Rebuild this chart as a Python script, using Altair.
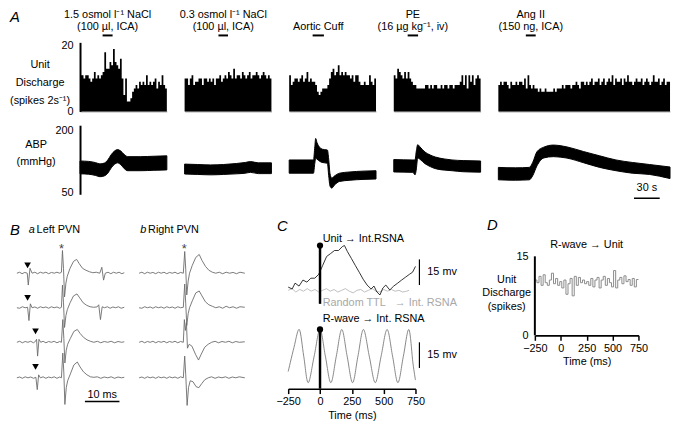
import altair as alt
import pandas as pd

FONT = "Liberation Sans"
FS = 11

# ===================== Panel A : unit discharge (spikes / 2 s bin) =====================
HIST_BIN_S = 2
HIST_NACL15 = [11, 11, 10, 11, 11, 10, 9, 10, 12, 10,
               11, 10, 11, 12, 18, 13, 13, 15, 14, 19,
               15, 14, 13, 16, 10, 5, 10, 3, 3, 4,
               6, 7, 8, 7, 9, 8, 9, 8, 11, 8,
               9, 8, 9, 10, 7, 9, 8, 11, 8, 7]
HIST_NACL03 = [10, 10, 8, 10, 11, 8, 9, 9, 10, 10,
               8, 10, 10, 9, 10, 9, 10, 8, 10, 10,
               11, 9, 10, 11, 10, 12, 11, 10, 13, 10,
               11, 11, 10, 12, 11, 10, 11, 12, 10, 11,
               11, 12, 11, 10, 11, 12, 11, 10, 11, 10]
HIST_CUFF = [11, 8, 9, 10, 10, 9, 10, 11, 9, 10,
             12, 9, 10, 9, 9, 8, 6, 5, 6, 7,
             7, 7, 8, 10, 12, 13, 11, 12, 14, 11,
             12, 11, 12, 11, 11, 10, 11, 9, 11, 11,
             9, 8, 8, 9, 8, 8, 11, 9, 8, 10]
HIST_PE = [11, 10, 13, 12, 11, 10, 12, 10, 12, 10,
           9, 8, 8, 7, 7, 7, 7, 7, 8, 8,
           7, 8, 7, 8, 8, 7, 7, 8, 7, 8,
           8, 7, 8, 8, 7, 8, 8, 8, 9, 11,
           8, 11, 7, 11, 9, 11, 8, 10, 11, 10]
HIST_ANG = [8, 9, 8, 9, 9, 8, 7, 9, 8, 8,
            9, 8, 9, 9, 8, 10, 7, 11, 8, 7,
            8, 7, 7, 6, 7, 6, 6, 7, 6, 6,
            6, 6, 7, 6, 7, 7, 7, 8, 7, 8,
            8, 8, 7, 8, 8, 9, 8, 7, 9, 9,
            8, 9, 8, 9, 10, 8, 9, 9, 10, 8,
            9, 10, 8, 9, 10, 9, 11, 8, 10, 9,
            9, 10, 8, 10, 9, 11, 9, 9, 8, 9,
            10, 9, 9, 10, 8, 9, 10, 9, 8, 9,
            11, 9, 9, 10, 8, 9, 10, 8, 9, 9]
HISTS = [HIST_NACL15, HIST_NACL03, HIST_CUFF, HIST_PE, HIST_ANG]
T_MAX_S = [100, 100, 100, 100, 200]
PANEL_W = [88, 88, 88, 88, 174]

STIM_START_S = [26, 39, 27, 16, 32]
STIM_END_S = [37.5, 50, 40, 28, 43.5]
LABEL_TOP = ["1.5 osmol l\u207b\u00b9 NaCl", "0.3 osmol l\u207b\u00b9 NaCl", "", "PE", "Ang II"]
LABEL_BOTTOM = ["(100 \u00b5l, ICA)", "(100 \u00b5l, ICA)", "Aortic Cuff",
                "(16 \u00b5g kg\u207b\u00b9, iv)", "(150 ng, ICA)"]

# ABP (mmHg): time (s), mean, pulse pressure
ABP_T = [
    [0, 10, 18, 23, 28, 32, 36, 40, 43, 47, 51, 55, 70, 85, 100],
    [0, 15, 30, 45, 60, 70, 76, 85, 100],
    [0, 28, 29.5, 30.5, 32, 35, 38, 44, 45.5, 47, 49, 52, 58, 70, 85, 100],
    [0, 22, 24.5, 25.8, 27.6, 30, 36, 42, 48, 58, 67, 80, 100],
    [0, 20, 36, 40, 45, 53, 64, 80, 99, 118, 137, 156, 176, 200],
]
ABP_MEAN = [
    [110, 109, 106, 103, 105, 112, 125, 134, 137, 133, 124, 119, 119, 120, 121],
    [106, 105, 104, 105, 107, 109, 111, 108, 108],
    [112, 112, 140, 156, 150, 142, 138, 136, 110, 80, 72, 78, 86, 89, 91, 92],
    [114, 113, 110, 125, 149, 145, 133, 126, 121, 117, 115, 113, 112],
    [95, 94, 95, 106, 131, 146, 150, 146, 135, 124, 115, 109, 105, 97],
]
ABP_PP = [
    [31, 31, 31, 31, 31, 32, 32, 32, 32, 33, 34, 34, 34, 34, 34],
    [24, 24, 24, 24, 25, 26, 26, 26, 26],
    [32, 32, 40, 48, 40, 34, 32, 32, 40, 30, 24, 22, 20, 20, 20, 20],
    [30, 30, 36, 44, 32, 30, 28, 28, 28, 27, 26, 27, 27],
    [30, 30, 30, 32, 34, 26, 28, 27, 27, 28, 26, 26, 24, 28],
]
TIME_BAR_S = [158, 188]   # 30 s calibration bar

# ===================== Panel B : extracellular spike traces =====================
LEFT_TRACES = [
    [(0, 0), (0.8, 1), (1.5, -0.5), (2.3, 0.8), (3.0, 0), (3.3, -12), (3.8, 5), (4.4, 0), (5.2, 1), (6.0, -0.5),
     (6.8, 1), (7.6, 0), (8.4, 1), (9.2, -0.5), (10, 0.8), (10.8, 0), (11.6, 1), (12.4, 0), (12.9, 1), (13.2, 23),
     (13.5, 5), (13.8, -24), (14.2, -10), (14.6, -3), (15.4, 5), (16.4, 12), (17.3, 14), (18.0, 10), (19.0, 5),
     (20.0, 3), (21.0, 1.5), (22.0, 0.5), (23.0, 1), (24.0, 0), (24.6, 6), (25.1, -7), (25.6, 0), (26.4, 1),
     (27.2, -0.5), (28.0, 1), (28.8, 0), (29.6, 1), (30.4, -0.5), (31.1, 0.5)],
    [(0, 0), (0.8, -0.5), (1.6, 1), (2.4, 0), (3.1, 0.5), (3.5, -13), (3.9, 4), (4.4, 0), (5.2, 0.8), (6, -0.5),
     (6.8, 1), (7.6, 0), (8.4, 0.8), (9.2, -0.5), (10, 1), (10.8, 0), (11.6, 0.8), (12.4, -0.5), (12.9, 0.5),
     (13.2, 23), (13.5, 5), (13.8, -20), (14.2, -8), (14.6, -2), (15.4, 5), (16.4, 12), (17.4, 14), (18.2, 10),
     (19.2, 5), (20.2, 2.5), (21.2, 1), (22.2, 0.5), (23.2, 0.8), (23.7, 3), (24.2, -12), (24.7, 1), (25.4, 0),
     (26.2, 1), (27, -0.5), (27.8, 0.8), (28.6, 0), (29.4, 1), (30.2, -0.5), (31.1, 0.5)],
    [(0, 0), (0.8, 1), (1.6, -0.5), (2.4, 0.8), (3.2, 0), (4, 1), (4.8, -0.5), (5.4, 1), (5.7, 3), (6.0, -14),
     (6.4, 3), (6.9, 0), (7.6, 1), (8.4, -0.5), (9.2, 0.8), (10, 0), (10.8, 1), (11.6, -0.5), (12.4, 0.8),
     (12.9, 0), (13.3, 23), (13.6, 4), (13.9, -21), (14.3, -8), (14.7, -2), (15.5, 4), (16.5, 11), (17.5, 13),
     (18.3, 9), (19.3, 5), (20.3, 2.5), (21.3, 1), (22.3, 0), (23.3, 1), (24.3, -0.5), (25.3, 0.8), (26.3, 0),
     (27.3, 1), (28.3, -0.5), (29.3, 0.8), (30.3, 0), (31.1, 0.5)],
    [(0, 0), (0.8, 0.8), (1.6, -0.5), (2.4, 1), (3.2, 0), (4, 0.8), (4.8, -0.5), (5.5, 0.5), (5.9, -12), (6.3, 3),
     (6.8, 0), (7.6, 1), (8.4, -0.5), (9.2, 0.8), (10, 0), (10.8, 1), (11.6, -0.5), (12.4, 0.8), (12.9, 0),
     (13.3, 25), (13.6, 5), (13.9, -27), (14.3, -10), (14.7, -3), (15.5, 4), (16.5, 13), (17.5, 16), (18.3, 11),
     (19.3, 6), (20.3, 3), (21.3, 1), (22.3, 0.5), (23.3, 1), (24.3, -0.5), (25.3, 0.8), (26.3, 0), (27.3, 1),
     (28.3, -0.5), (29.3, 0.8), (30.3, 0), (31.1, 0.5)],
]
RIGHT_TRACES = [
    [(0, 0), (0.8, 1), (1.6, -0.5), (2.4, 1), (3.2, 0), (4, 0.8), (4.8, -0.5), (5.6, 1), (6.4, 0), (7.2, 1),
     (8, -0.5), (8.8, 0.8), (9.6, 0), (10.4, 1), (11.2, -0.5), (12, 0.8), (12.8, 0), (13.2, 22), (13.5, 4),
     (13.8, -22), (14.2, -8), (14.6, 0), (15.4, 8), (16.4, 16), (17.4, 19), (18.2, 13), (19.2, 7), (20.2, 3),
     (21.2, 1), (22.2, 0), (23.2, 1), (24.2, -0.5), (25.2, 1), (26.2, 0), (27.2, 0.8), (28.2, -0.5), (29.2, 1),
     (30.6, 0)],
    [(0, 0), (0.8, -0.5), (1.6, 1), (2.4, 0), (3.2, 0.8), (4, -0.5), (4.8, 1), (5.6, 0), (6.4, 0.8), (7.2, -0.5),
     (8, 1), (8.8, 0), (9.6, 0.8), (10.4, -0.5), (11.2, 1), (12, 0), (12.8, 0.5), (13.2, 24), (13.5, 4),
     (13.8, -18), (14.2, -6), (14.6, 0), (15.4, 7), (16.4, 15), (17.4, 17), (18.2, 12), (19.2, 6), (20.2, 3),
     (21.2, 1.5), (22.2, 0), (23.2, 1), (24.2, -0.5), (25.2, 1.5), (26.2, 0), (27.2, 1), (28.2, -0.5), (29.2, 1),
     (30.6, 0.5)],
    [(0, 0), (0.8, 1), (1.6, -0.5), (2.4, 0.8), (3.2, 0), (4, 1), (4.8, -0.5), (5.6, 0.8), (6.4, 0), (7.2, 1),
     (8, -0.5), (8.8, 0.8), (9.6, 0), (10.4, 1), (11.2, -0.5), (12, 0.8), (12.8, 0), (13.1, 23), (13.4, 12),
     (13.7, 20), (14.0, -6), (14.5, -2), (15.3, -4), (16.3, -12), (17.2, -18), (18.0, -12), (19.0, -5),
     (20.0, -2), (21.0, 0), (22, 1), (23, -0.5), (24, 0.8), (25, 0), (26, 1), (27, -0.5), (28, 0.8), (29, 0),
     (30.6, 0.5)],
    [(0, 0), (0.8, 0.8), (1.6, -0.5), (2.4, 1), (3.2, 0), (4, 0.8), (4.8, -0.5), (5.6, 1), (6.4, 0), (7.2, 0.8),
     (8, -0.5), (8.8, 1), (9.6, 0), (10.4, 0.8), (11.2, -0.5), (12, 1), (12.8, 0), (13.2, 22), (13.5, 3),
     (13.9, -28), (14.3, -10), (14.8, -3), (15.6, -4), (16.5, -9), (17.3, -10), (18.1, -6), (19, -2), (20, 0),
     (21, 1), (22, -0.5), (23, 0.8), (24, 0), (25, 1), (26, -0.5), (27, 0.8), (28, 0), (29, 1), (30.6, 0)],
]
B_TRACE_OFFSET = [0, -35, -70, -106]
B_RIGHT_SHIFT_MS = 35.4
B_ARROWS = [(0, 3.1, 8), (1, 3.1, 10), (2, 5.4, 11), (3, 5.4, 11)]   # (trace, ms, height)
B_STARS = [(12.9, 27), (35.4 + 13.1, 27)]
B_SCALE_MS = [19.7, 29.7]

# ===================== Panel C : triggered averages of integrated RSNA =====================
C_UNIT_T = [-250, -219, -196, -165, -134, -103, -72, -41, -10, 21, 52, 83, 114, 145, 176, 192, 215, 246, 277,
            308, 339, 370, 401, 424, 447, 471, 494, 517, 548, 579, 610, 641, 672, 703, 727, 750]
C_UNIT_V = [59.4, 58.3, 61.7, 60, 63.5, 62.3, 64.6, 64.6, 66.9, 72.1, 77.3, 79, 80.8, 80.8, 83.1, 83.7, 80.2,
            76.2, 72.1, 68.1, 64, 60.6, 58.3, 60, 56.5, 54.8, 58.9, 60.6, 57.7, 60, 61.7, 63.5, 65.2, 66.9, 68.1, 71.5]
C_TTL_T = [-250, -220, -190, -160, -130, -100, -70, -40, -10, 20, 50, 80, 110, 140, 170, 200, 230, 260, 290,
           320, 350, 380, 410, 440, 470, 500, 530, 560, 590, 620, 650, 680, 700]
C_TTL_V = [57.5, 58.5, 56.5, 58, 57, 58.5, 57, 58, 56.5, 57.5, 58.5, 57, 58, 56.5, 57.5, 58.5, 57, 56, 57.5,
           58, 56.5, 57.5, 58.5, 57, 56.5, 58, 57, 58, 57, 57.5, 56.5, 57, 57.5]
C_RWAVE_T = [-250, -205, -163, -128, -93, -46, 0, 42, 85, 128, 171, 213, 256, 298, 341, 387, 434, 480, 527,
             570, 612, 655, 698, 730, 750]
C_RWAVE_V = [10, 24, 34.6, 19, 3.5, 19, 34.6, 19, 3.5, 19, 34.6, 19, 3.5, 19, 34.6, 19, 3.5, 19, 34.6,
             19, 3.5, 19, 34.6, 15, 5]
C_TRIGGER = [(49.6, 83.7), (0, 34.6)]     # vertical trigger marks at t = 0 (mV range)
C_SCALEBARS = [(60.6, 75.6), (12.1, 27.1)]  # 15 mV calibration bars
C_SCALE_X_MS = 781

# ===================== Panel D : R-wave triggered unit histogram =====================
D_BIN_MS = 20
D_COUNTS = [10.5, 10, 11.2, 9.5, 11.5, 10, 9.5, 10.5, 11.8, 9.8,
            10.8, 9.5, 10.2, 9, 10.5, 7.8, 9.8, 10.8, 7.5, 11.2,
            9.5, 11, 10, 10.5, 9.8, 10.2, 9.5, 10.8, 9.2, 10.5,
            11, 9, 10.5, 11.2, 9.5, 10.8, 10, 9.2, 12.3, 9,
            10.5, 11, 9.8, 11.3, 10.2, 10.6, 9.5, 10.8, 9.2, 10.6]
TIME_TICKS_MS = [-250, 0, 250, 500, 750]


def letter(ch, x, y):
    return alt.Chart(pd.DataFrame({"s": [ch]})).mark_text(
        fontSize=15, fontStyle="italic", align="center", baseline="middle"
    ).encode(x=alt.value(x), y=alt.value(y), text="s:N")


def frame(top, bottom, left=-8):
    # white (invisible) guide that fixes the extent of a row for the layout
    return alt.Chart(pd.DataFrame({"v": [0]})).mark_rule(color="white", strokeWidth=0.5).encode(
        x=alt.value(left), y=alt.value(top), y2=alt.value(bottom))


def spacer(w, h):
    return alt.Chart(pd.DataFrame({"v": [0]})).mark_point(opacity=0).properties(width=w, height=h)


def hist_panel(i):
    counts = HISTS[i]
    # step outline of the histogram: each bin start, plus the closing edge of the last bin
    df = pd.DataFrame({"t": [k * HIST_BIN_S for k in range(len(counts))] + [len(counts) * HIST_BIN_S],
                       "n": counts + [counts[-1]]})
    xs = alt.Scale(domain=[0, T_MAX_S[i]], nice=False, zero=False)
    ys = alt.Scale(domain=[0, 21], nice=False)
    xax = alt.Axis(labels=False, ticks=False, title=None, domainColor="#9a9a9a", domainWidth=1, grid=False)
    if i == 0:
        yax = alt.Axis(values=[0, 20], ticks=False, domainWidth=2, labelPadding=7, grid=False,
                       title=["Unit", "Discharge", "(spikes 2s\u207b\u00b9)"], titleAngle=0, titleAlign="center",
                       titleBaseline="middle", titleX=-41, titleY=22, titleLineHeight=18.5)
    else:
        yax = None
    bars = alt.Chart(df).mark_area(color="black", interpolate="step-after").encode(
        x=alt.X("t:Q", scale=xs, axis=xax),
        y=alt.Y("n:Q", scale=ys, axis=yax), y2=alt.datum(0))
    sdf = pd.DataFrame({"s": [STIM_START_S[i]], "e": [STIM_END_S[i]]})
    sdf["m"] = (sdf["s"] + sdf["e"]) / 2
    stim = alt.Chart(sdf).mark_rule(color="black", strokeWidth=2).encode(
        x=alt.X("s:Q", scale=xs, axis=xax), x2="e:Q", y=alt.value(-7))
    lab_rows = []
    if LABEL_TOP[i]:
        lab_rows.append({"m": sdf["m"][0], "lab": LABEL_TOP[i], "yy": -28})
    lab_rows.append({"m": sdf["m"][0], "lab": LABEL_BOTTOM[i], "yy": -16})
    labs = alt.Chart(pd.DataFrame(lab_rows)).mark_text(fontSize=FS, baseline="middle").encode(
        x=alt.X("m:Q", scale=xs, axis=xax), y=alt.Y("yy:Q", scale=None), text="lab:N")
    layers = [bars, stim, labs]
    if i == 0:
        layers.append(letter("A", -66, -26))
    return alt.layer(*layers).properties(width=PANEL_W[i], height=70)


def abp_panel(i):
    df = pd.DataFrame({"t": ABP_T[i], "m": ABP_MEAN[i], "pp": ABP_PP[i]})
    df["lo"] = df["m"] - df["pp"] / 2
    df["hi"] = df["m"] + df["pp"] / 2
    xs = alt.Scale(domain=[0, T_MAX_S[i]], nice=False, zero=False)
    ys = alt.Scale(domain=[45, 212], nice=False, zero=False)
    if i == 0:
        yax = alt.Axis(values=[50, 200], ticks=False, domainWidth=2, labelPadding=7, grid=False,
                       title=["ABP", "(mmHg)"], titleAngle=0, titleAlign="center", titleBaseline="middle",
                       titleX=-45, titleY=20, titleLineHeight=17)
    else:
        yax = None
    band = alt.Chart(df).mark_area(color="black", interpolate="monotone", stroke="black", strokeWidth=1).encode(
        x=alt.X("t:Q", scale=xs, axis=None),
        y=alt.Y("lo:Q", scale=ys, axis=yax), y2="hi:Q")
    layers = [band]
    if i == 4:
        bdf = pd.DataFrame({"s": [TIME_BAR_S[0]], "e": [TIME_BAR_S[1]], "lab": ["30 s"]})
        bdf["m"] = (bdf["s"] + bdf["e"]) / 2
        layers.append(alt.Chart(bdf).mark_rule(color="black", strokeWidth=1.5).encode(
            x=alt.X("s:Q", scale=xs, axis=None), x2="e:Q", y=alt.value(74)))
        layers.append(alt.Chart(bdf).mark_text(fontSize=FS).encode(
            x=alt.X("m:Q", scale=xs, axis=None), y=alt.value(64), text="lab:N"))
    return alt.layer(*layers).properties(width=PANEL_W[i], height=70)


def panel_b():
    rows = []
    for side, traces in (("a", LEFT_TRACES), ("b", RIGHT_TRACES)):
        shift = B_RIGHT_SHIFT_MS if side == "b" else 0
        for k, tr in enumerate(traces):
            for j, (t, v) in enumerate(tr):
                rows.append({"key": side + str(k), "o": j, "t": t + shift, "y": v + B_TRACE_OFFSET[k]})
    df = pd.DataFrame(rows)
    xs = alt.Scale(domain=[0, 66], nice=False, zero=False)
    ys = alt.Scale(domain=[-136, 31], nice=False, zero=False)
    lines = alt.Chart(df).mark_line(color="#6a6a6a", strokeWidth=0.9).encode(
        x=alt.X("t:Q", scale=xs, axis=None), y=alt.Y("y:Q", scale=ys, axis=None),
        detail="key:N", order="o:Q")
    adf = pd.DataFrame({"t": [a[1] for a in B_ARROWS],
                        "y": [a[2] + B_TRACE_OFFSET[a[0]] for a in B_ARROWS]})
    arrows = alt.Chart(adf).mark_point(shape="triangle-down", filled=True, color="black", size=45, opacity=1).encode(
        x=alt.X("t:Q", scale=xs, axis=None), y=alt.Y("y:Q", scale=ys, axis=None))
    sdf = pd.DataFrame({"t": [s[0] for s in B_STARS], "y": [s[1] for s in B_STARS], "s": ["*", "*"]})
    stars = alt.Chart(sdf).mark_text(fontSize=13, baseline="middle", dy=3, color="#444").encode(
        x=alt.X("t:Q", scale=xs, axis=None), y=alt.Y("y:Q", scale=ys, axis=None), text="s:N")
    bar_df = pd.DataFrame({"s": [B_SCALE_MS[0]], "e": [B_SCALE_MS[1]], "y": [-130], "ty": [-123], "lab": ["10 ms"]})
    bar_df["m"] = (bar_df["s"] + bar_df["e"]) / 2
    sbar = alt.Chart(bar_df).mark_rule(color="black", strokeWidth=1.5).encode(
        x=alt.X("s:Q", scale=xs, axis=None), x2="e:Q", y=alt.Y("y:Q", scale=ys, axis=None))
    stxt = alt.Chart(bar_df).mark_text(fontSize=FS).encode(
        x=alt.X("m:Q", scale=xs, axis=None), y=alt.Y("ty:Q", scale=ys, axis=None), text="lab:N")
    heads = alt.Chart(pd.DataFrame({"s": ["a", "b"], "x": [15, 128]})).mark_text(
        fontSize=FS, fontStyle="italic").encode(x=alt.X("x:Q", scale=None, axis=None), y=alt.value(-13), text="s:N")
    heads2 = alt.Chart(pd.DataFrame({"s": ["Left PVN", "Right PVN"], "x": [20, 133]})).mark_text(
        fontSize=FS, align="left").encode(x=alt.X("x:Q", scale=None, axis=None), y=alt.value(-13), text="s:N")
    return alt.layer(frame(-29, 178), lines, arrows, stars, sbar, stxt, heads, heads2,
                     letter("B", -2, -13)).properties(width=231, height=167)


def time_axis(dw=1.5):
    return alt.Axis(values=TIME_TICKS_MS, tickSize=5, tickWidth=1.5, domainWidth=dw, labelPadding=2,
                    titlePadding=3, labelFlush=False, labelOverlap=False, grid=False, title="Time (ms)")


def panel_c():
    xs = alt.Scale(domain=[-250, 750], nice=False, zero=False)
    ys = alt.Scale(domain=[0, 85.4], nice=False, zero=False)
    xax = time_axis()
    unit = alt.Chart(pd.DataFrame({"t": C_UNIT_T, "v": C_UNIT_V})).mark_line(color="black", strokeWidth=0.8).encode(
        x=alt.X("t:Q", scale=xs, axis=xax), y=alt.Y("v:Q", scale=ys, axis=None))
    ttl = alt.Chart(pd.DataFrame({"t": C_TTL_T, "v": C_TTL_V})).mark_line(color="#b8b8b8", strokeWidth=0.9).encode(
        x=alt.X("t:Q", scale=xs, axis=xax), y=alt.Y("v:Q", scale=ys, axis=None))
    rw = alt.Chart(pd.DataFrame({"t": C_RWAVE_T, "v": C_RWAVE_V})).mark_line(
        color="#7a7a7a", strokeWidth=0.9, interpolate="cardinal").encode(
        x=alt.X("t:Q", scale=xs, axis=xax), y=alt.Y("v:Q", scale=ys, axis=None))
    trig_df = pd.DataFrame({"t": [0, 0], "lo": [c[0] for c in C_TRIGGER], "hi": [c[1] for c in C_TRIGGER]})
    trig = alt.Chart(trig_df).mark_rule(color="black", strokeWidth=2.5).encode(
        x=alt.X("t:Q", scale=xs, axis=xax), y=alt.Y("lo:Q", scale=ys, axis=None), y2="hi:Q")
    dots = alt.Chart(trig_df).mark_point(filled=True, color="black", size=40, opacity=1).encode(
        x=alt.X("t:Q", scale=xs, axis=xax), y=alt.Y("hi:Q", scale=ys, axis=None))
    sb_df = pd.DataFrame({"t": [C_SCALE_X_MS] * 2, "lo": [s[0] for s in C_SCALEBARS],
                          "hi": [s[1] for s in C_SCALEBARS], "tx": [843, 843], "lab": ["15 mv", "15 mv"]})
    sb_df["mid"] = (sb_df["lo"] + sb_df["hi"]) / 2
    sbars = alt.Chart(sb_df).mark_rule(color="black", strokeWidth=1.2).encode(
        x=alt.X("t:Q", scale=xs, axis=xax), y=alt.Y("lo:Q", scale=ys, axis=None), y2="hi:Q")
    stext = alt.Chart(sb_df).mark_text(fontSize=FS, align="left").encode(
        x=alt.X("tx:Q", scale=xs, axis=xax), y=alt.Y("mid:Q", scale=ys, axis=None), text="lab:N")
    lab_df = pd.DataFrame({
        "t": [21, 21, 21], "v": [87.3, 49.8, 40.8],
        "lab": ["Unit \u2192 Int.RSNA", "Random TTL\u00a0\u00a0 \u2192 Int. RSNA", "R-wave \u2192 Int. RSNA"],
        "c": ["k", "g", "k"]})
    labs = alt.Chart(lab_df).mark_text(fontSize=FS, align="left").encode(
        x=alt.X("t:Q", scale=xs, axis=xax), y=alt.Y("v:Q", scale=ys, axis=None), text="lab:N",
        color=alt.Color("c:N", scale=alt.Scale(domain=["k", "g"], range=["black", "#a8a8a8"]), legend=None))
    return alt.layer(ttl, unit, rw, trig, dots, sbars, stext, labs, letter("C", -6, -17)).properties(
        width=129, height=148)


def panel_d():
    ts = [-250 + k * D_BIN_MS for k in range(len(D_COUNTS))] + [750]
    vs = D_COUNTS + [D_COUNTS[-1]]
    xs = alt.Scale(domain=[-250, 750], nice=False, zero=False)
    ys = alt.Scale(domain=[0, 17.6], nice=False, zero=False)
    xax = time_axis(2)
    yax = alt.Axis(values=[0, 15], ticks=False, domain=False, labelPadding=7, grid=False,
                   title=["Unit", "Discharge", "(spikes)"], titleAngle=0, titleAlign="center",
                   titleBaseline="middle", titleX=-29, titleY=37, titleLineHeight=14)
    step = alt.Chart(pd.DataFrame({"t": ts, "n": vs})).mark_line(
        color="#8a8a8a", strokeWidth=1, interpolate="step-after").encode(
        x=alt.X("t:Q", scale=xs, axis=xax), y=alt.Y("n:Q", scale=ys, axis=yax))
    yline = alt.Chart(pd.DataFrame({"t": [-250], "a": [0], "b": [15]})).mark_rule(
        color="black", strokeWidth=2).encode(
        x=alt.X("t:Q", scale=xs, axis=xax), y=alt.Y("a:Q", scale=ys, axis=yax), y2="b:Q")
    title = alt.Chart(pd.DataFrame({"s": ["R-wave \u2192 Unit"]})).mark_text(fontSize=FS).encode(
        x=alt.value(52.5), y=alt.value(2), text="s:N")
    return alt.layer(step, yline, title, letter("D", -43, -18)).properties(width=105, height=94)


row1 = alt.hconcat(alt.layer(frame(-40, 80)).properties(width=46, height=70),
                   *[hist_panel(i) for i in range(5)], spacing=18, bounds="flush")
row2 = alt.hconcat(alt.layer(frame(-2, 88)).properties(width=46, height=70),
                   *[abp_panel(i) for i in range(5)], spacing=18, bounds="flush")
row3 = alt.hconcat(panel_b(), spacer(44, 10), panel_c(), spacer(121, 10), panel_d(),
                   spacing=0, bounds="flush")

chart = alt.vconcat(row1, row2, row3, spacing=0).properties(
    padding={"top": -9, "left": 0, "right": 0, "bottom": 0}
).configure_view(
    stroke=None
).configure_axis(
    labelFont=FONT, titleFont=FONT, labelFontSize=FS, titleFontSize=FS, labelColor="black",
    titleColor="black", titleFontWeight="normal", grid=False, domainColor="black", tickColor="black"
).configure_text(font=FONT, fontSize=FS, color="black")

chart.save("out.html", embed_options={"renderer": "svg", "actions": False})
